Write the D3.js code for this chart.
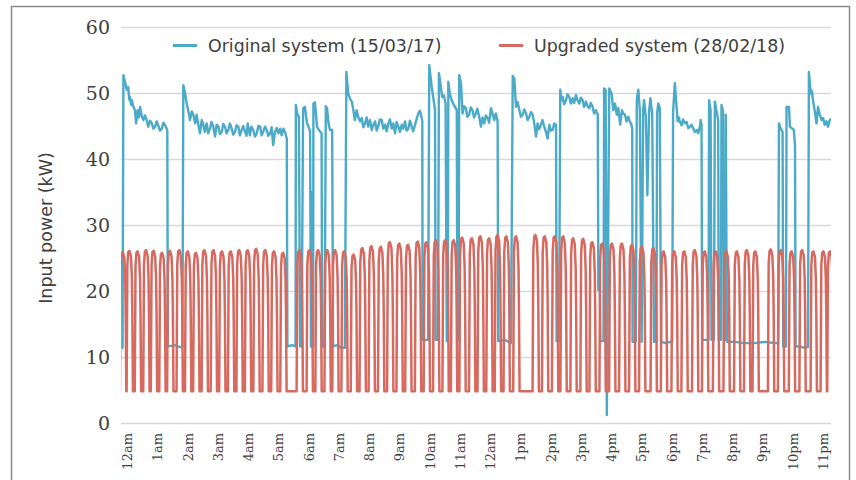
<!DOCTYPE html>
<html>
<head>
<meta charset="utf-8">
<script src="https://cdn.jsdelivr.net/npm/d3@7"></script>
<style>
  html, body { margin: 0; padding: 0; background: #ffffff; }
  svg { display: block; }
</style>
</head>
<body>
<svg id="chart" width="856" height="480"></svg>
<script>
// ---------------- DATA ----------------
const seriesNames = ["Original system (15/03/17)", "Upgraded system (28/02/18)"];
const xTickHours = [0,1,2,3,4,5,6,7,8,9,10,11,12,13,14,15,16,17,18,19,20,21,22,23];
const xTickLabels = ["12am","1am","2am","3am","4am","5am","6am","7am","8am","9am","10am","11am",
                     "12am","1pm","2pm","3pm","4pm","5pm","6pm","7pm","8pm","9pm","10pm","11pm"];
const yTicks = [0,10,20,30,40,50,60];

// Original system: [hour of day, input power kW]
const originalSeries = [
[-0.18,11.3],[-0.15,11.4],[-0.12,52.7],[-0.06,51.6],[-0.01,50.5],[0.04,50.9],[0.07,49.0],[0.10,49.4],[0.13,48.2],[0.16,48.9],[0.21,47.9],[0.26,47.4],[0.30,45.4],[0.35,47.4],[0.39,46.3],[0.43,47.9],[0.49,46.4],[0.54,45.9],[0.59,46.6],[0.65,45.9],[0.70,44.9],[0.76,45.8],[0.82,45.4],[0.87,44.6],[0.93,44.9],[0.98,45.7],[1.03,45.1],[1.09,44.3],[1.15,44.6],[1.20,45.5],[1.26,45.1],[1.33,44.4],
[1.35,11.6],[1.59,11.8],[1.75,11.5],[1.83,11.6],
[1.86,51.2],[1.92,49.9],[1.97,48.4],[2.03,47.2],[2.08,45.9],[2.14,47.2],[2.19,46.7],[2.25,45.4],[2.30,46.7],[2.36,45.1],[2.41,43.9],[2.47,45.9],[2.52,45.2],[2.57,44.1],[2.63,45.4],[2.68,43.9],[2.74,44.6],[2.79,45.6],[2.85,44.9],[2.91,43.4],[2.96,45.2],[3.02,44.9],[3.07,43.8],[3.13,44.1],[3.18,45.3],[3.24,44.9],[3.29,43.9],[3.35,44.4],[3.40,45.4],[3.46,44.6],[3.51,43.7],[3.57,44.1],[3.62,45.1],[3.68,44.9],[3.73,43.6],[3.79,44.4],[3.84,45.0],[3.90,44.1],[3.95,43.5],[3.99,45.4],[4.06,43.6],[4.11,44.9],[4.17,44.4],[4.23,43.4],[4.29,43.9],[4.34,45.0],[4.40,44.9],[4.45,43.6],[4.50,44.1],[4.56,44.9],[4.62,44.4],[4.67,43.5],[4.73,43.9],[4.78,44.8],[4.83,42.1],[4.89,44.1],[4.95,44.7],[5.00,43.9],[5.06,44.6],[5.11,43.6],[5.17,44.6],[5.22,44.1],[5.28,43.1],
[5.30,11.6],[5.45,11.8],[5.57,11.6],[5.58,48.2],[5.63,46.8],[5.68,46.4],[5.72,11.6],[5.77,11.6],[5.82,47.7],[5.88,47.9],[5.95,45.4],[6.00,44.9],[6.05,44.2],[6.08,11.6],[6.11,11.6],[6.13,35.0],[6.15,11.6],[6.16,48.4],[6.21,48.6],[6.28,44.9],[6.34,44.4],[6.43,43.9],[6.45,11.6],[6.53,11.6],[6.57,48.0],[6.61,47.7],[6.66,45.4],[6.71,44.4],[6.78,44.4],[6.81,11.6],[6.94,11.8],[7.07,11.4],[7.20,11.4],
[7.25,53.2],[7.31,49.9],[7.37,49.1],[7.43,48.7],[7.48,47.4],[7.53,45.9],[7.59,47.4],[7.64,46.4],[7.70,45.7],[7.76,46.2],[7.81,44.8],[7.87,45.4],[7.92,46.3],[7.97,44.9],[8.03,45.9],[8.09,44.4],[8.14,45.1],[8.20,45.7],[8.25,44.3],[8.30,44.9],[8.36,46.0],[8.42,45.9],[8.47,44.6],[8.53,45.2],[8.58,44.2],[8.64,45.4],[8.69,46.0],[8.75,44.6],[8.80,45.4],[8.86,43.9],[8.91,45.6],[8.97,44.9],[9.02,44.1],[9.08,45.2],[9.13,44.6],[9.19,45.7],[9.24,44.3],[9.30,44.6],[9.35,45.8],[9.41,44.9],[9.46,44.2],[9.52,45.2],[9.57,46.0],[9.63,46.9],[9.68,47.3],[9.72,46.7],[9.76,45.7],
[9.77,12.6],[9.95,12.6],[9.99,54.2],[10.07,51.0],[10.12,49.4],[10.18,47.4],[10.20,12.6],[10.28,12.6],[10.31,53.0],[10.37,51.0],[10.42,49.4],[10.48,49.6],[10.53,48.4],[10.57,12.4],[10.60,12.4],[10.62,51.7],[10.67,49.9],[10.73,48.9],[10.78,48.4],[10.84,47.9],[10.90,47.4],[10.92,12.6],[10.96,12.6],
[10.98,52.7],[11.04,51.4],[11.09,46.9],[11.14,48.0],[11.20,47.7],[11.25,46.4],[11.31,46.7],[11.36,47.8],[11.42,47.4],[11.47,46.3],[11.53,46.9],[11.58,47.6],[11.64,46.4],[11.70,44.9],[11.75,46.3],[11.81,45.4],[11.86,46.6],[11.92,46.2],[11.97,45.5],[12.03,47.7],[12.09,46.7],[12.14,45.9],[12.19,46.9],[12.25,45.7],
[12.27,12.4],[12.49,12.6],[12.69,12.1],
[12.75,52.6],[12.80,52.2],[12.86,47.9],[12.91,48.6],[12.97,47.4],[13.02,46.4],[13.08,46.7],[13.13,47.5],[13.19,46.9],[13.24,45.9],[13.30,46.4],[13.35,47.1],[13.41,46.7],[13.46,45.4],[13.52,43.4],[13.57,45.4],[13.62,44.5],[13.68,45.2],[13.73,45.9],[13.79,44.9],[13.84,44.2],[13.90,43.1],[13.96,45.2],[14.01,44.3],[14.07,44.4],[14.12,45.4],[14.18,45.2],
[14.20,12.4],[14.28,12.4],
[14.32,50.5],[14.36,48.9],[14.40,49.4],[14.45,48.3],[14.51,48.9],[14.56,49.8],[14.62,49.4],[14.67,48.4],[14.73,49.2],[14.78,48.5],[14.84,49.7],[14.89,48.9],[14.95,48.4],[15.00,49.3],[15.06,48.9],[15.11,47.9],[15.17,48.7],[15.22,48.0],[15.28,47.7],[15.33,48.5],[15.39,47.9],[15.44,46.9],[15.50,47.4],[15.56,46.7],
[15.58,20.2],[15.63,20.2],[15.65,12.4],[15.75,12.4],[15.77,50.7],[15.82,50.5],[15.86,1.2],
[15.94,50.7],[16.02,49.9],[16.07,47.4],[16.13,48.4],[16.19,46.7],[16.24,47.7],[16.30,45.2],[16.36,47.4],[16.40,46.9],[16.46,46.7],[16.51,45.7],[16.57,46.4],[16.62,45.6],[16.66,45.4],[16.70,44.6],
[16.71,12.3],[16.82,12.3],[16.85,49.0],[16.90,50.5],[16.95,47.4],[17.01,12.3],[17.06,47.4],[17.09,48.9],[17.15,46.4],[17.20,34.5],[17.26,47.4],[17.30,49.2],[17.36,46.9],[17.42,12.3],[17.50,12.3],[17.52,46.9],[17.56,48.4],[17.61,47.7],[17.65,12.3],[17.81,12.1],[17.95,12.3],[18.02,12.3],
[18.05,47.2],[18.11,51.5],[18.14,49.4],[18.20,45.7],[18.24,46.3],[18.27,45.7],[18.33,45.1],[18.38,46.0],[18.44,45.4],[18.50,45.6],[18.55,44.7],[18.61,44.9],[18.66,45.2],[18.72,44.6],[18.77,44.1],[18.83,44.4],[18.88,43.9],[18.94,45.0],[18.96,45.9],[18.99,45.2],
[19.01,12.6],[19.22,12.6],[19.24,48.9],[19.29,47.4],[19.32,12.6],[19.40,12.6],[19.43,48.7],[19.48,47.4],[19.54,45.9],[19.56,12.6],[19.63,12.6],[19.65,48.2],[19.70,47.2],[19.73,12.6],[19.78,12.6],[19.79,46.7],
[19.83,12.3],[20.09,12.3],[20.42,12.1],[20.75,12.1],[21.08,12.3],[21.41,12.1],[21.52,12.1],
[21.55,45.4],[21.61,44.6],[21.67,44.1],[21.69,11.6],[21.78,11.6],[21.80,47.9],[21.88,47.9],[21.91,44.9],[21.99,44.6],[22.04,44.4],[22.08,42.1],
[22.10,11.6],[22.24,11.6],[22.40,11.4],[22.51,11.5],
[22.54,53.2],[22.60,49.9],[22.64,50.3],[22.68,48.7],[22.73,47.4],[22.79,45.4],[22.84,47.9],[22.90,46.7],[22.96,45.9],[23.01,46.2],[23.06,45.2],[23.12,45.7],[23.17,44.9],[23.23,45.9],[23.28,46.1]
];

// Upgraded system: compressor cycles
const upgradedPeakHours = [
-0.12,0.10,0.37,0.65,0.90,1.18,1.44,1.75,2.03,2.30,2.58,2.88,3.16,3.45,3.73,4.01,4.29,4.59,4.88,5.18,
5.72,6.05,6.34,6.64,6.90,7.20,7.51,7.80,8.10,8.41,8.71,9.02,9.31,9.63,9.92,10.23,10.54,10.82,11.10,11.42,11.70,11.99,12.27,12.56,12.88,
13.52,13.83,14.16,14.44,14.77,15.10,15.40,15.73,16.05,16.38,16.71,17.04,17.42,17.76,18.11,18.44,18.79,19.12,19.48,19.83,20.18,20.51,20.79,
21.30,21.63,21.99,22.34,22.71,23.04,23.26
];
const upgradedPeakKW = [
25.9,26.1,26.0,26.2,26.1,25.8,26.1,26.2,26.0,25.8,26.2,26.2,26.0,26.0,26.2,26.2,26.4,26.2,26.0,25.8,
26.2,26.2,26.2,26.2,26.2,26.0,25.5,26.5,26.8,26.7,27.4,27.2,27.0,27.5,27.4,27.7,27.7,27.7,28.1,28.0,28.3,28.0,28.5,28.3,28.3,
28.5,28.3,28.3,28.3,28.0,27.9,27.4,27.2,27.2,27.2,27.0,26.7,26.5,26.0,26.0,26.0,26.2,26.0,26.0,26.0,26.0,26.2,26.0,
26.3,26.2,26.0,26.2,26.0,26.0,26.0
];
const upgradedIdleKW = 4.8;

// ---------------- LAYOUT ----------------
const W = 856, H = 480;
const plot = { left: 121, right: 831, top: 27, bottom: 423 };
const colors = { original: "#4aaac8", upgraded: "#d66a60" };

const svg = d3.select("#chart");

// outer frame
svg.append("rect")
  .attr("x", 11.5).attr("y", 6.5)
  .attr("width", 838).attr("height", 520)
  .attr("fill", "#ffffff")
  .attr("stroke", "#8c8c8c").attr("stroke-width", 1.5);

const x = d3.scaleLinear().domain([-0.2, 23.27]).range([plot.left, plot.right]);
const y = d3.scaleLinear().domain([0, 60]).range([plot.bottom, plot.top]);

// gridlines + y labels
const yAxis = d3.axisLeft(y).tickValues(yTicks).tickSize(-(plot.right - plot.left)).tickFormat(d => d).tickPadding(11);
const gy = svg.append("g").attr("transform", `translate(${plot.left},0)`).call(yAxis);
gy.select(".domain").remove();
gy.selectAll(".tick line").attr("stroke", "#d9d9d9").attr("stroke-width", 1.3);
gy.selectAll(".tick text")
  .attr("font-family", "'DejaVu Serif', serif")
  .attr("font-size", 19)
  .attr("fill", "#404040");

// x axis labels
const xAxis = d3.axisBottom(x).tickValues(xTickHours).tickSize(0)
  .tickFormat((d, i) => xTickLabels[i]);
const gx = svg.append("g").attr("transform", `translate(0,${plot.bottom})`).call(xAxis);
gx.select(".domain").remove();
gx.selectAll(".tick text")
  .attr("font-family", "'DejaVu Serif', serif")
  .attr("font-size", 13)
  .attr("fill", "#404040")
  .attr("text-anchor", "end")
  .attr("transform", "rotate(-90)")
  .attr("x", -10)
  .attr("y", 0)
  .attr("dy", "0.35em");

// clip
svg.append("clipPath").attr("id", "plotclip")
  .append("rect").attr("x", plot.left).attr("y", 0)
  .attr("width", plot.right - plot.left).attr("height", H);

const line = d3.line().x(d => x(d[0])).y(d => y(d[1]));

// pulse outline (hour offset from peak, share of peak height above idle)
const pulseOffsets = [-0.115, -0.09, -0.06, -0.02, 0.03, 0.06, 0.075, 0.095];
const pulseShares  = [0, 0.9, 0.99, 1, 0.96, 0.8, 0.55, 0];
const upgradedSeries = [];
upgradedPeakHours.forEach((h, i) => {
  const pk = upgradedPeakKW[i];
  pulseOffsets.forEach((o, j) => {
    upgradedSeries.push([h + o, upgradedIdleKW + (pk - upgradedIdleKW) * pulseShares[j]]);
  });
});

const lines = svg.append("g").attr("clip-path", "url(#plotclip)");
lines.append("path").datum(originalSeries)
  .attr("d", line).attr("fill", "none")
  .attr("stroke", colors.original).attr("stroke-width", 2.4)
  .attr("stroke-linejoin", "round");
lines.append("path").datum(upgradedSeries)
  .attr("d", line).attr("fill", "none")
  .attr("stroke", colors.upgraded).attr("stroke-width", 2.5)
  .attr("stroke-linejoin", "round");

// y axis title
svg.append("text")
  .attr("transform", "translate(46,228) rotate(-90)")
  .attr("text-anchor", "middle")
  .attr("dominant-baseline", "central")
  .attr("font-family", "'DejaVu Sans', sans-serif")
  .attr("font-size", 17.5)
  .attr("fill", "#404040")
  .text("Input power (kW)");

// legend
const legendItems = [
  { name: seriesNames[0], color: colors.original, x: 173 },
  { name: seriesNames[1], color: colors.upgraded, x: 499 }
];
const lg = svg.append("g");
legendItems.forEach(it => {
  lg.append("line").attr("x1", it.x).attr("x2", it.x + 24)
    .attr("y1", 45.5).attr("y2", 45.5)
    .attr("stroke", it.color).attr("stroke-width", 3);
  lg.append("text").attr("x", it.x + 35).attr("y", 46)
    .attr("dominant-baseline", "central")
    .attr("font-family", "'DejaVu Sans', sans-serif")
    .attr("font-size", 17.4)
    .attr("fill", "#404040")
    .text(it.name);
});
</script>
</body>
</html>
